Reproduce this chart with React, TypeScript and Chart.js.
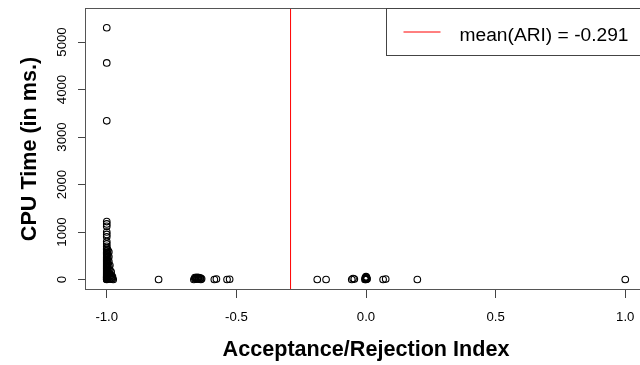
import { useEffect, useRef } from "react";
import { Chart, registerables } from "chart.js";

Chart.register(...registerables);

// ---- data ----
const xTickValues = [-1, -0.5, 0, 0.5, 1];
const xTickLabels = ["-1.0", "-0.5", "0.0", "0.5", "1.0"];
const yTickValues = [0, 1000, 2000, 3000, 4000, 5000];
const yTickLabels = ["0", "1000", "2000", "3000", "4000", "5000"];

// Acceptance/Rejection Index of each run
const ariValues = [
  // x = -1.0 column
  -1, -1, -1, -1, -1, -1, -1, -1, -1, -1, -1, -1,
  -1, -1, -1, -1, -1, -1, -1, -1, -1, -1, -1, -1, -1, -1, -1, -1, -1, -1,
  -1, -1, -1, -1, -1, -1, -1, -1, -1, -1, -1, -1, -1, -1, -1, -1, -1, -1,
  -0.996, -0.996, -0.996, -0.996, -0.996, -0.996, -0.996, -0.996, -0.996,
  -0.992, -0.992, -0.992, -0.992, -0.992, -0.992, -0.992,
  -0.988, -0.988, -0.988, -0.988, -0.988,
  -0.983, -0.983, -0.983, -0.983,
  -0.978, -0.978, -0.975,
  // bottom row
  -0.8,
  -0.664, -0.66, -0.657, -0.653, -0.65, -0.647, -0.644, -0.64, -0.637, -0.634,
  -0.66, -0.652, -0.645, -0.638,
  -0.585, -0.577,
  -0.536, -0.526,
  -0.188, -0.154,
  -0.055, -0.045, -0.05,
  -0.004, -0.002, 0, 0.002, 0.004, 0, -0.001, 0.001, -0.003, 0.003, 0,
  0.066, 0.076,
  0.198,
  1.0,
];

// CPU time of each run (ms)
const cpuTimes = [
  // x = -1.0 column
  5300, 4560, 3340, 1220, 1170, 1120, 1000, 950, 900, 800, 750, 700,
  660, 630, 600, 570, 545, 520, 495, 470, 445, 420, 400, 380, 355, 330, 310, 290,
  270, 250, 230, 210, 190, 170, 150, 130, 115, 100, 85, 70, 60, 50, 40, 30,
  20, 12, 5, 0,
  620, 540, 470, 400, 330, 260, 190, 120, 60,
  580, 480, 380, 280, 200, 130, 70,
  300, 200, 120, 60, 15,
  160, 90, 40, 5,
  60, 20, 0,
  // bottom row
  0,
  0, 15, 30, 5, 20, 35, 10, 25, 0, 15,
  40, 45, 40, 30,
  0, 10,
  0, 5,
  0, 0,
  0, 10, 20,
  0, 15, 30, 45, 10, 60, 5, 25, 35, 20, 0,
  0, 10,
  0,
  0,
];

const meanARI = -0.291;
const legendLabel = "mean(ARI) = -0.291";
const xTitle = "Acceptance/Rejection Index";
const yTitle = "CPU Time (in ms.)";

const X_MIN = -1.08;
const X_MAX = 1.08;
const Y_MIN = -221;
const Y_MAX = 5716;

const FONT = '"Liberation Sans", Arial, Helvetica, sans-serif';

const framePlugin = {
  id: "frame",
  afterDatasetsDraw(chart: any) {
    const { ctx, chartArea: a } = chart;
    ctx.save();
    // plot box
    ctx.strokeStyle = "#555";
    ctx.lineWidth = 1;
    ctx.strokeRect(a.left - 0.5, a.top + 0.5, a.right - a.left + 1, a.bottom - a.top - 1);

    // legend (top right)
    const lx = Math.round(a.right - 260) + 0.5;
    const ly = a.top + 0.5;
    const lh = 47;
    ctx.fillStyle = "#fff";
    ctx.fillRect(lx, ly, a.right - lx + 2, lh);
    ctx.strokeStyle = "#444";
    ctx.strokeRect(lx, ly, a.right - lx + 2, lh);
    ctx.strokeStyle = "#ff0000";
    ctx.lineWidth = 1;
    ctx.beginPath();
    ctx.moveTo(lx + 17, 32);
    ctx.lineTo(lx + 54, 32);
    ctx.stroke();
    ctx.fillStyle = "#000";
    ctx.font = `19.2px ${FONT}`;
    ctx.textBaseline = "alphabetic";
    ctx.textAlign = "left";
    ctx.fillText(legendLabel, lx + 73, 41);
    ctx.restore();
  },
};

export default function App() {
  const canvasRef = useRef<HTMLCanvasElement | null>(null);

  useEffect(() => {
    const canvas = canvasRef.current;
    if (!canvas) return;
    const points = ariValues.map((x, i) => ({ x, y: cpuTimes[i] }));
    const chart = new Chart(canvas, {
      type: "scatter",
      data: {
        datasets: [
          {
            type: "scatter",
            label: "runs",
            data: points,
            pointStyle: "circle",
            pointRadius: 3.3,
            pointBorderWidth: 1.1,
            pointBackgroundColor: "rgba(0,0,0,0)",
            pointBorderColor: "#000",
            order: 2,
          } as any,
          {
            type: "line",
            label: legendLabel,
            data: [
              { x: meanARI, y: Y_MIN },
              { x: meanARI, y: Y_MAX },
            ],
            borderColor: "#ff0000",
            borderWidth: 1,
            pointRadius: 0,
            fill: false,
            order: 1,
          } as any,
        ],
      },
      options: {
        animation: false,
        responsive: false,
        devicePixelRatio: 1,
        layout: { padding: { top: 8, right: 14, left: 0, bottom: 0 } },
        plugins: { legend: { display: false }, tooltip: { enabled: false } },
        scales: {
          x: {
            type: "linear",
            min: X_MIN,
            max: X_MAX,
            afterBuildTicks: (s: any) => {
              s.ticks = xTickValues.map((v) => ({ value: v }));
            },
            afterFit: (s: any) => {
              s.height = 75;
              s.paddingLeft = 0;
              s.paddingRight = 0;
              s.paddingTop = 0;
              s.paddingBottom = 0;
            },
            ticks: {
              autoSkip: false,
              maxRotation: 0,
              minRotation: 0,
              padding: 11.8,
              color: "#000",
              font: { family: FONT, size: 13.2 },
              callback: (v: any) => xTickLabels[xTickValues.indexOf(Number(v))] ?? "",
            },
            grid: { display: true, drawOnChartArea: false, drawTicks: true, tickLength: 8, color: "#444" },
            border: { display: false },
            title: {
              display: true,
              text: xTitle,
              color: "#000",
              font: { family: FONT, size: 21.6, weight: "bold" },
              padding: { top: 0, bottom: 1.5 },
            },
          },
          y: {
            type: "linear",
            min: Y_MIN,
            max: Y_MAX,
            afterBuildTicks: (s: any) => {
              s.ticks = yTickValues.map((v) => ({ value: v }));
            },
            afterFit: (s: any) => {
              s.width = 86;
              s.paddingLeft = 0;
              s.paddingRight = 0;
              s.paddingTop = 0;
              s.paddingBottom = 0;
            },
            ticks: {
              autoSkip: false,
              minRotation: 90,
              maxRotation: 90,
              crossAlign: "center",
              padding: 1.3,
              color: "#000",
              font: { family: FONT, size: 13.2 },
              callback: (v: any) => yTickLabels[yTickValues.indexOf(Number(v))] ?? "",
            },
            grid: { display: true, drawOnChartArea: false, drawTicks: true, tickLength: 8, color: "#444" },
            border: { display: false },
            title: {
              display: true,
              text: yTitle,
              color: "#000",
              font: { family: FONT, size: 21.6, weight: "bold" },
              padding: { top: 17.5, bottom: 0 },
            },
          },
        },
      } as any,
      plugins: [framePlugin],
    });
    return () => chart.destroy();
  }, []);

  return (
    <div
      style={{
        position: "fixed",
        left: 0,
        top: 0,
        width: 640,
        height: 365,
        overflow: "hidden",
        background: "#fff",
      }}
    >
      <canvas ref={canvasRef} width={660} height={365} style={{ display: "block" }} />
    </div>
  );
}
